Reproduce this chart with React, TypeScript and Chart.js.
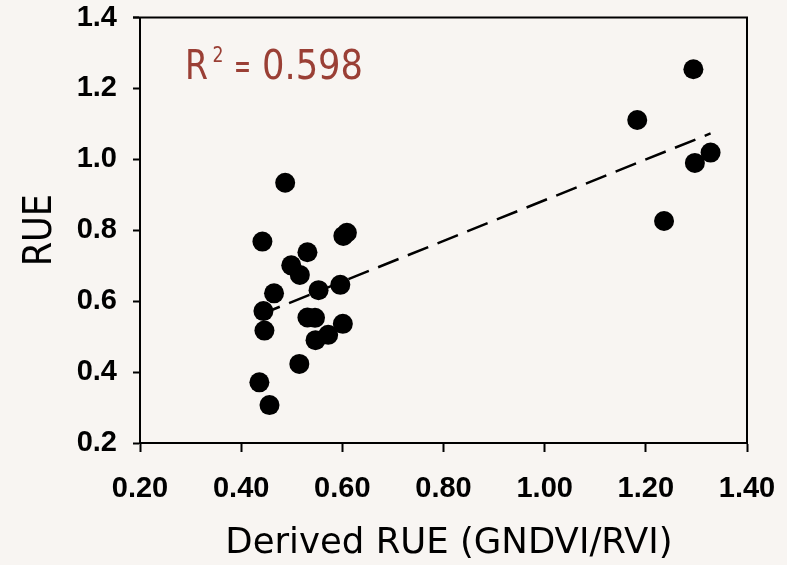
import React, { useEffect, useRef } from 'react';
import { Chart, registerables } from 'chart.js';
Chart.register(...registerables);

// Data
const derivedRUE = [0.436, 0.456, 0.442, 0.487, 0.444, 0.446, 0.465, 0.499, 0.516, 0.531, 0.553, 0.515, 0.531, 0.546, 0.547, 0.572, 0.596, 0.601, 0.602, 0.609, 1.183, 1.294, 1.236, 1.297, 1.328];
const rueValues = [0.371, 0.307, 0.768, 0.934, 0.572, 0.517, 0.622, 0.701, 0.674, 0.738, 0.631, 0.423, 0.554, 0.553, 0.490, 0.505, 0.646, 0.536, 0.784, 0.793, 1.111, 1.254, 0.826, 0.990, 1.019];

const trendX = [0.436, 1.328];
const trendY = [0.561, 1.073];

const xTickValues = [0.2, 0.4, 0.6, 0.8, 1.0, 1.2, 1.4];
const xTickLabels = ['0.20', '0.40', '0.60', '0.80', '1.00', '1.20', '1.40'];
const yTickValues = [0.2, 0.4, 0.6, 0.8, 1.0, 1.2, 1.4];
const yTickLabels = ['0.2', '0.4', '0.6', '0.8', '1.0', '1.2', '1.4'];

const xTitle = 'Derived RUE (GNDVI/RVI)';
const yTitle = 'RUE';
const r2Value = '0.598';

const BG = '#f8f5f2';
const R2_COLOR = '#9a3f35';
const COND_FONT = "'DejaVu Sans Condensed', 'Liberation Sans Narrow', 'DejaVu Sans', sans-serif";
const XTITLE_FONT = "'DejaVu Sans', sans-serif";
const TICK_FONT = "'Liberation Sans', Arial, sans-serif";

// Target plot-area edges (canvas px)
const AREA = { left: 140, top: 17.5, right: 747, bottom: 443 };

export default function App() {
  const ref = useRef<HTMLCanvasElement | null>(null);

  useEffect(() => {
    document.body.style.margin = '0';
    document.body.style.background = BG;
    const canvas = ref.current;
    if (!canvas) return;

    const bgPlugin = {
      id: 'bg',
      beforeDraw(chart: any) {
        const ctx = chart.ctx;
        ctx.save();
        ctx.fillStyle = BG;
        ctx.fillRect(0, 0, chart.width, chart.height);
        ctx.restore();
      },
    };

    const boxPlugin = {
      id: 'box',
      afterDraw(chart: any) {
        const { ctx, chartArea } = chart;
        const { left, right, top, bottom } = chartArea;
        ctx.save();
        ctx.strokeStyle = '#000';
        ctx.lineWidth = 2;
        ctx.beginPath();
        ctx.moveTo(left - 7, top);
        ctx.lineTo(right, top);
        ctx.lineTo(right, bottom);
        ctx.stroke();

        // x-axis title
        ctx.fillStyle = '#000';
        ctx.textAlign = 'center';
        ctx.textBaseline = 'alphabetic';
        ctx.font = `35.5px ${XTITLE_FONT}`;
        ctx.fillText(xTitle, 449, 553);

        // R² annotation
        ctx.fillStyle = R2_COLOR;
        ctx.textAlign = 'left';
        const base = 79;
        ctx.font = `40px ${COND_FONT}`;
        ctx.fillText('R', 185, base, 23);
        ctx.font = `21px ${COND_FONT}`;
        ctx.fillText('2', 212.5, 61.5, 11);
        ctx.font = `36px ${COND_FONT}`;
        ctx.fillText('=', 234, base - 1, 17);
        ctx.font = `40px ${COND_FONT}`;
        ctx.fillText(r2Value, 262, base, 101);
        ctx.restore();
      },
    };

    const chart: any = new Chart(canvas, {
      type: 'scatter',
      data: {
        datasets: [
          {
            type: 'scatter',
            data: derivedRUE.map((v, i) => ({ x: v, y: rueValues[i] })),
            backgroundColor: '#000',
            borderColor: '#000',
            pointRadius: 10,
            pointBorderWidth: 0,
          },
          {
            type: 'line',
            data: trendX.map((v, i) => ({ x: v, y: trendY[i] })),
            borderColor: '#000',
            borderWidth: 2.5,
            borderDash: [22, 10],
            pointRadius: 0,
            fill: false,
          },
        ],
      },
      options: {
        responsive: false,
        animation: false,
        devicePixelRatio: 1,
        layout: { padding: { left: 0, right: 40, top: 17.5, bottom: 0 } },
        plugins: {
          legend: { display: false },
          tooltip: { enabled: false },
        },
        scales: {
          x: {
            type: 'linear',
            min: 0.2,
            max: 1.4,
            afterFit(scale: any) {
              scale.height = 122;
              scale.paddingLeft = 0;
              scale.paddingRight = 0;
            },
            afterBuildTicks(scale: any) {
              scale.ticks = xTickValues.map((v) => ({ value: v }));
            },
            ticks: {
              color: '#000',
              font: { family: TICK_FONT, size: 29, weight: 'bold' },
              padding: 20,
              maxRotation: 0,
              autoSkip: false,
              callback: (_v: any, i: number) => xTickLabels[i],
            },
            grid: {
              drawOnChartArea: false,
              drawTicks: true,
              tickLength: 9,
              tickWidth: 2,
              tickColor: '#000',
              color: '#000',
            },
            border: { display: true, color: '#000', width: 2 },
            title: { display: false },
          },
          y: {
            type: 'linear',
            min: 0.2,
            max: 1.4,
            afterFit(scale: any) {
              scale.width = 140;
              scale.paddingTop = 0;
              scale.paddingBottom = 0;
            },
            afterBuildTicks(scale: any) {
              scale.ticks = yTickValues.map((v) => ({ value: v }));
            },
            ticks: {
              color: '#000',
              font: { family: TICK_FONT, size: 29, weight: 'bold' },
              padding: 16,
              autoSkip: false,
              callback: (_v: any, i: number) => yTickLabels[i],
            },
            grid: {
              drawOnChartArea: false,
              drawTicks: true,
              tickLength: 7,
              tickWidth: 2,
              tickColor: '#000',
              color: '#000',
            },
            border: { display: true, color: '#000', width: 2 },
            title: {
              display: true,
              text: yTitle,
              color: '#000',
              font: { family: COND_FONT, size: 39, lineHeight: 1 },
              padding: { top: 21, bottom: 0 },
            },
          },
        },
      },
      plugins: [bgPlugin, boxPlugin],
    } as any);

    // Nudge layout padding so the plot area lands on the target edges
    for (let k = 0; k < 3; k++) {
      const ca = chart.chartArea;
      const pad = chart.options.layout.padding;
      const dTop = ca.top - AREA.top;
      const dRight = AREA.right - ca.right;
      const dBottom = AREA.bottom - ca.bottom;
      if (Math.abs(dTop) < 0.3 && Math.abs(dRight) < 0.3 && Math.abs(dBottom) < 0.3) break;
      chart.options.layout.padding = {
        left: pad.left,
        top: pad.top - dTop,
        right: pad.right - dRight,
        bottom: Math.max(0, pad.bottom - dBottom),
      };
      chart.update();
    }

    return () => chart.destroy();
  }, []);

  return (
    <div style={{ width: 787, height: 565 }}>
      <canvas ref={ref} width={787} height={565} style={{ display: 'block' }} />
    </div>
  );
}
